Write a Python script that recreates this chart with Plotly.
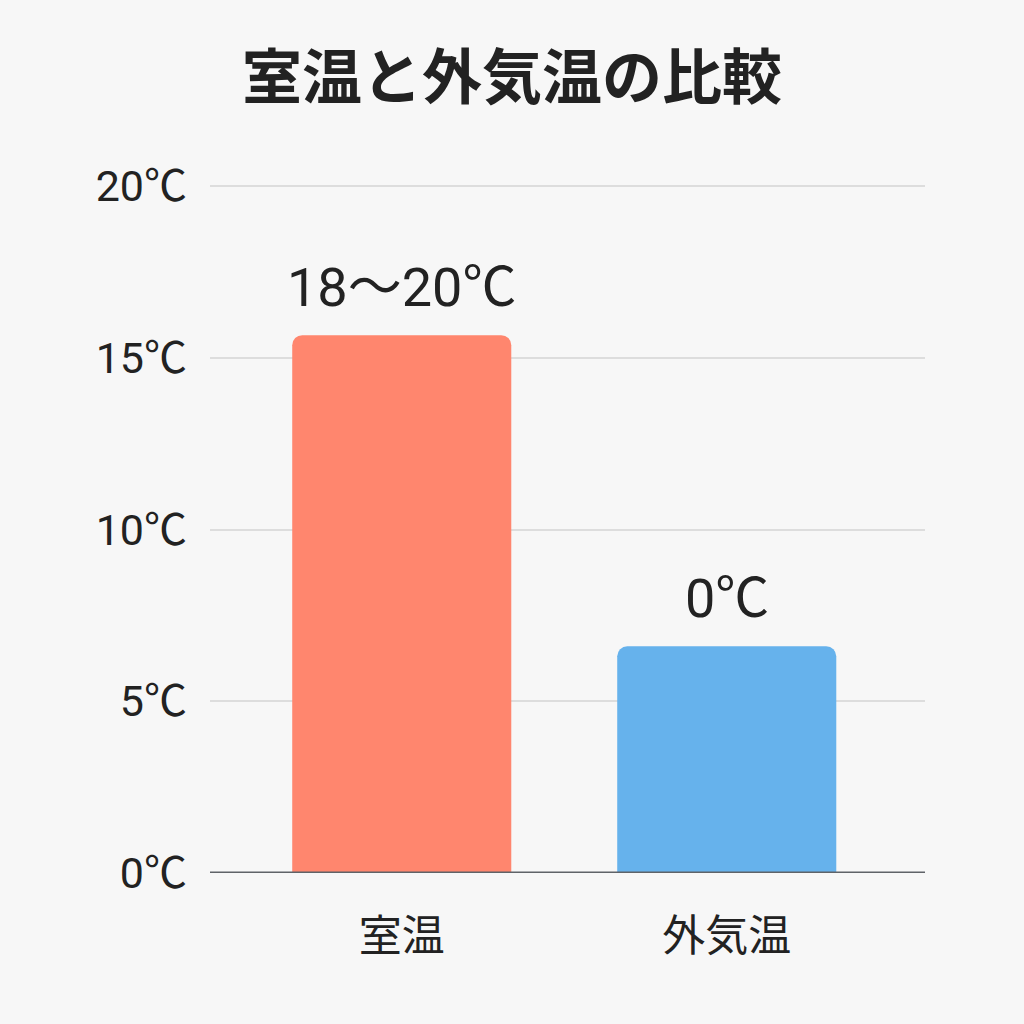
import plotly.graph_objects as go

# Data
categories = ['室温', '外気温']
bar_heights = [15.66, 6.6]
bar_labels = ['18〜20℃', '0℃']
bar_colors = ['#FF866E', '#66B2EC']
y_ticks = [0, 5, 10, 15, 20]
y_tick_labels = ['0℃', '5℃', '10℃', '15℃', '20℃']

cjk = 'Noto Sans CJK JP'
num_font = 'Roboto, Noto Sans CJK JP'

fig = go.Figure()
fig.add_trace(go.Bar(
    x=[0, 1], y=bar_heights,
    marker=dict(color=bar_colors, cornerradius=10, line=dict(width=0)),
    width=0.674, hoverinfo='skip',
))

# Value labels above bars
for i, (h, lab) in enumerate(zip(bar_heights, bar_labels)):
    fig.add_annotation(x=i, y=h, text=lab, showarrow=False,
                       yanchor='middle', yshift=48,
                       font=dict(size=54, color='#222222', family=num_font))

fig.update_layout(
    width=1024, height=1024,
    paper_bgcolor='#F7F7F7', plot_bgcolor='#F7F7F7',
    margin=dict(l=210, r=99, t=183, b=151),
    showlegend=False,
    title=dict(text='<b>室温と外気温の比較</b>', x=0.5, xanchor='center',
               y=1 - 78 / 1024, yanchor='middle',
               font=dict(size=60, color='#222222', family=cjk)),
    xaxis=dict(range=[-0.59, 1.61], tickvals=[0, 1], ticktext=categories,
               tickfont=dict(size=43, color='#222222', family=cjk),
               showgrid=False, ticks='', showline=False, zeroline=False,
               ticklabelstandoff=34, fixedrange=True),
    yaxis=dict(range=[0, 20.09], tickvals=y_ticks, ticktext=y_tick_labels,
               tickfont=dict(size=43, color='#222222', family=num_font),
               showgrid=True, gridcolor='#DDDDDD', gridwidth=2,
               zeroline=False, showline=False, ticklabelstandoff=22,
               fixedrange=True),
)

# Baseline at zero
fig.add_shape(type='line', xref='paper', yref='y', x0=0, x1=1, y0=0, y1=0,
              line=dict(color='#5F6368', width=3))

fig.write_html('out.html', config={'displayModeBar': False},
               post_script="document.body.style.margin='0';")
